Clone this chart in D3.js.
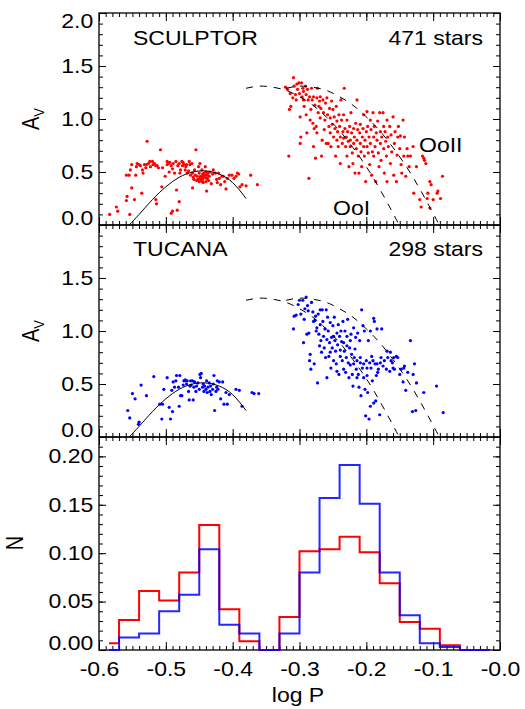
<!DOCTYPE html>
<html>
<head>
<meta charset="utf-8">
<script src="https://cdn.jsdelivr.net/npm/d3@7"></script>
<style>
body { margin: 0; background: #fff; }
svg text { font-family: "Liberation Sans", Arial, Helvetica, sans-serif; fill: #000; }
</style>
</head>
<body>
<svg id="chart" width="525" height="709"></svg>
<script>
/* ---------------------- Data ---------------------- */
// [log P, A_V]
var sculptorStars = [
  [-0.584,0.10],[-0.574,0.17],[-0.572,0.13],[-0.559,0.47],[-0.555,0.47],[-0.558,0.27],[-0.559,0.23],[-0.554,0.10],
  [-0.553,0.52],[-0.551,0.57],[-0.551,0.35],[-0.547,0.24],[-0.545,0.47],[-0.544,0.55],[-0.543,0.58],[-0.540,0.57],
  [-0.538,0.56],[-0.536,0.30],[-0.535,0.52],[-0.534,0.49],[-0.532,0.57],[-0.530,0.54],[-0.529,0.57],[-0.528,0.79],
  [-0.526,0.58],[-0.524,0.60],[-0.523,0.55],[-0.520,0.60],[-0.519,0.57],[-0.517,0.58],[-0.515,0.24],[-0.514,0.20],
  [-0.515,0.56],[-0.513,0.56],[-0.511,0.54],[-0.508,0.71],[-0.506,0.36],[-0.505,0.54],[-0.501,0.46],[-0.498,0.60],
  [-0.498,0.57],[-0.496,0.58],[-0.495,0.50],[-0.494,0.59],[-0.492,0.56],[-0.492,0.11],[-0.490,0.13],[-0.490,0.53],
  [-0.489,0.58],[-0.487,0.49],[-0.485,0.60],[-0.484,0.33],[-0.483,0.14],[-0.482,0.56],[-0.480,0.58],[-0.480,0.22],
  [-0.479,0.49],[-0.478,0.52],[-0.476,0.60],[-0.475,0.56],[-0.474,0.59],[-0.473,0.57],[-0.471,0.52],[-0.470,0.55],
  [-0.469,0.57],[-0.468,0.49],[-0.466,0.51],[-0.465,0.60],[-0.464,0.57],[-0.463,0.47],[-0.461,0.58],[-0.460,0.35],
  [-0.460,0.49],[-0.459,0.45],[-0.458,0.43],[-0.457,0.52],[-0.456,0.47],[-0.455,0.71],[-0.454,0.42],[-0.453,0.46],
  [-0.452,0.43],[-0.451,0.55],[-0.450,0.41],[-0.450,0.49],[-0.449,0.58],[-0.448,0.46],[-0.447,0.43],[-0.446,0.52],
  [-0.445,0.43],[-0.444,0.46],[-0.444,0.40],[-0.443,0.49],[-0.442,0.45],[-0.441,0.55],[-0.440,0.41],[-0.439,0.32],
  [-0.438,0.44],[-0.437,0.49],[-0.435,0.46],[-0.434,0.50],[-0.432,0.39],[-0.430,0.48],[-0.429,0.52],[-0.426,0.49],
  [-0.424,0.43],[-0.423,0.40],[-0.421,0.49],[-0.420,0.44],[-0.418,0.38],[-0.416,0.46],[-0.414,0.46],[-0.412,0.41],
  [-0.410,0.34],[-0.408,0.44],[-0.405,0.47],[-0.401,0.47],[-0.398,0.44],[-0.395,0.46],[-0.393,0.49],[-0.391,0.48],
  [-0.389,0.36],[-0.386,0.38],[-0.380,0.37],[-0.373,0.47],[-0.363,0.38],
  [-0.447,0.45],[-0.443,0.47],[-0.439,0.44],[-0.445,0.48],[-0.436,0.42],[-0.441,0.47],[-0.449,0.44],[-0.438,0.47],
  [-0.446,0.41],[-0.440,0.50],
  [-0.321,1.30],[-0.318,1.28],[-0.315,1.09],[-0.314,1.24],[-0.313,1.12],[-0.310,1.20],[-0.316,0.65],[-0.309,1.39],
  [-0.308,1.31],[-0.306,1.23],[-0.305,1.18],[-0.304,1.33],[-0.303,1.28],[-0.301,1.34],[-0.300,1.24],[-0.299,1.02],
  [-0.299,0.77],[-0.298,0.83],[-0.297,1.34],[-0.296,1.21],[-0.295,1.29],[-0.294,1.26],[-0.294,1.18],[-0.293,1.12],
  [-0.291,1.31],[-0.290,1.23],[-0.290,1.04],[-0.289,0.87],[-0.288,1.28],[-0.287,1.18],[-0.286,0.44],[-0.285,1.21],
  [-0.284,0.99],[-0.283,1.09],[-0.282,1.29],[-0.281,1.18],[-0.280,0.96],[-0.279,0.74],[-0.279,1.21],[-0.278,0.91],
  [-0.277,1.13],[-0.276,0.63],[-0.275,0.93],[-0.274,1.20],[-0.274,0.87],[-0.273,1.29],[-0.272,1.06],[-0.271,1.12],
  [-0.270,1.17],[-0.269,1.01],[-0.269,1.21],[-0.268,1.10],[-0.267,0.65],[-0.266,0.80],[-0.265,1.18],[-0.264,1.06],
  [-0.263,0.90],[-0.262,0.99],[-0.261,1.15],[-0.260,0.77],[-0.259,1.20],[-0.258,1.04],[-0.257,0.77],[-0.256,0.93],
  [-0.255,1.10],[-0.254,0.87],[-0.254,1.01],[-0.253,0.74],[-0.252,1.17],[-0.251,0.95],[-0.250,1.09],[-0.249,0.83],
  [-0.248,1.02],[-0.247,0.91],[-0.246,0.65],[-0.245,1.12],[-0.244,0.80],[-0.244,0.98],[-0.243,0.88],[-0.242,0.74],
  [-0.241,1.04],[-0.240,0.93],[-0.239,0.83],[-0.239,0.58],[-0.238,1.18],[-0.237,0.99],[-0.236,0.77],[-0.235,0.88],
  [-0.234,0.82],[-0.234,1.04],[-0.233,1.29],[-0.232,0.91],[-0.231,0.74],[-0.230,0.83],[-0.229,0.65],[-0.229,0.99],
  [-0.228,0.88],[-0.227,0.79],[-0.226,0.55],[-0.225,0.93],[-0.224,0.80],[-0.224,0.74],[-0.223,1.06],[-0.222,0.87],
  [-0.221,0.68],[-0.220,0.58],[-0.219,0.91],[-0.219,0.77],[-0.218,0.83],[-0.217,0.49],[-0.216,0.96],[-0.215,0.72],
  [-0.214,1.18],[-0.214,0.80],[-0.213,0.90],[-0.212,0.65],[-0.211,0.49],[-0.210,0.87],[-0.209,0.77],[-0.209,0.95],
  [-0.208,0.69],[-0.207,0.55],[-0.206,0.83],[-0.205,0.91],[-0.204,0.74],[-0.204,1.04],[-0.203,0.65],[-0.202,0.80],
  [-0.201,0.41],[-0.200,0.88],[-0.199,1.07],[-0.199,0.74],[-0.198,0.93],[-0.197,0.68],[-0.196,0.83],[-0.195,0.57],
  [-0.194,0.99],[-0.194,0.77],[-0.193,0.90],[-0.192,0.47],[-0.191,0.69],[-0.190,1.06],[-0.189,0.83],[-0.189,0.65],
  [-0.188,0.93],[-0.187,0.74],[-0.186,0.41],[-0.185,0.87],[-0.184,0.80],[-0.183,0.98],[-0.182,0.68],[-0.181,0.55],
  [-0.180,1.06],[-0.179,0.88],[-0.179,0.77],[-0.178,0.61],[-0.177,0.83],[-0.175,1.06],[-0.174,0.72],[-0.174,0.93],
  [-0.173,0.49],[-0.172,0.88],[-0.171,0.79],[-0.170,0.65],[-0.169,0.41],[-0.169,0.99],[-0.168,0.83],[-0.167,0.74],
  [-0.165,0.93],[-0.164,0.58],[-0.163,0.85],[-0.162,0.69],[-0.160,1.02],[-0.159,0.47],[-0.158,0.77],[-0.157,0.88],
  [-0.155,0.41],[-0.154,0.66],[-0.153,0.83],[-0.152,0.93],[-0.150,0.72],[-0.149,0.84],[-0.148,0.57],[-0.147,0.49],
  [-0.145,0.99],[-0.144,0.65],[-0.143,0.83],[-0.141,0.46],[-0.139,0.72],[-0.138,0.65],[-0.136,0.55],[-0.134,0.65],
  [-0.130,0.74],[-0.129,0.30],[-0.125,0.55],[-0.120,0.24],[-0.118,0.17],[-0.116,0.65],[-0.114,0.63],[-0.113,0.61],
  [-0.111,0.58],[-0.109,0.25],[-0.108,0.30],[-0.105,0.41],[-0.105,0.16],[-0.103,0.38],[-0.100,0.24],[-0.094,0.30],
  [-0.093,0.32],[-0.089,0.25],[-0.086,0.46]
];

var tucanaStars = [
  [-0.557,0.25],[-0.554,0.18],[-0.550,0.41],[-0.546,0.36],[-0.541,0.12],[-0.540,0.14],[-0.537,0.49],[-0.529,0.39],
  [-0.518,0.57],[-0.509,0.31],[-0.506,0.17],[-0.505,0.31],[-0.503,0.45],[-0.498,0.56],[-0.495,0.28],[-0.493,0.17],
  [-0.491,0.44],[-0.490,0.24],[-0.489,0.52],[-0.487,0.47],[-0.485,0.53],[-0.484,0.58],[-0.481,0.47],[-0.480,0.29],
  [-0.479,0.58],[-0.478,0.39],[-0.476,0.39],[-0.474,0.49],[-0.473,0.53],[-0.471,0.54],[-0.470,0.53],[-0.469,0.50],
  [-0.468,0.53],[-0.466,0.43],[-0.465,0.35],[-0.464,0.48],[-0.463,0.53],[-0.462,0.49],[-0.460,0.53],[-0.459,0.35],
  [-0.458,0.47],[-0.457,0.52],[-0.455,0.43],[-0.454,0.48],[-0.452,0.51],[-0.450,0.45],[-0.449,0.59],[-0.448,0.56],
  [-0.447,0.60],[-0.445,0.47],[-0.444,0.50],[-0.443,0.43],[-0.442,0.48],[-0.440,0.45],[-0.439,0.53],[-0.438,0.42],
  [-0.437,0.47],[-0.435,0.51],[-0.434,0.43],[-0.433,0.48],[-0.432,0.40],[-0.430,0.45],[-0.429,0.50],[-0.428,0.58],
  [-0.427,0.25],[-0.425,0.43],[-0.424,0.47],[-0.423,0.53],[-0.422,0.45],[-0.420,0.52],[-0.418,0.36],[-0.415,0.52],
  [-0.413,0.31],[-0.410,0.42],[-0.408,0.31],[-0.405,0.40],[-0.395,0.45],[-0.390,0.44],[-0.386,0.29],[-0.371,0.42],
  [-0.368,0.41],[-0.361,0.41],
  [-0.309,1.02],[-0.308,1.14],[-0.305,1.15],[-0.302,1.25],[-0.300,1.29],[-0.298,1.16],[-0.295,1.29],[-0.294,0.89],
  [-0.293,1.11],[-0.292,1.21],[-0.290,1.32],[-0.289,0.97],[-0.288,1.24],[-0.287,1.19],[-0.286,0.98],[-0.285,0.72],
  [-0.284,0.78],[-0.283,0.64],[-0.282,1.27],[-0.280,1.18],[-0.279,1.09],[-0.278,0.69],[-0.277,1.10],[-0.276,1.14],
  [-0.275,1.00],[-0.274,1.03],[-0.273,0.51],[-0.272,1.16],[-0.271,0.97],[-0.270,0.86],[-0.269,1.20],[-0.269,1.06],
  [-0.268,0.91],[-0.267,0.80],[-0.266,1.20],[-0.265,1.09],[-0.264,0.95],[-0.263,0.84],[-0.262,1.02],[-0.261,0.75],
  [-0.260,1.20],[-0.259,0.92],[-0.259,0.56],[-0.258,1.13],[-0.257,1.00],[-0.256,0.76],[-0.255,0.89],[-0.254,1.08],
  [-0.254,0.80],[-0.253,0.65],[-0.252,0.94],[-0.251,0.84],[-0.250,1.05],[-0.249,0.95],[-0.249,0.72],[-0.248,1.13],
  [-0.247,0.91],[-0.246,0.81],[-0.245,0.69],[-0.244,0.62],[-0.244,0.98],[-0.243,0.87],[-0.242,1.06],[-0.241,0.59],
  [-0.240,0.95],[-0.239,0.82],[-0.239,0.76],[-0.238,1.00],[-0.237,0.90],[-0.236,0.72],[-0.235,1.09],[-0.234,0.64],
  [-0.234,0.89],[-0.233,0.81],[-0.232,1.00],[-0.231,0.61],[-0.230,0.75],[-0.229,0.95],[-0.229,0.86],[-0.228,1.11],
  [-0.227,0.70],[-0.226,0.56],[-0.225,0.84],[-0.224,0.68],[-0.224,0.91],[-0.223,0.97],[-0.222,0.78],[-0.221,0.59],
  [-0.220,0.48],[-0.219,0.69],[-0.219,1.03],[-0.218,0.75],[-0.217,0.83],[-0.216,0.94],[-0.215,0.64],[-0.214,0.56],
  [-0.214,0.72],[-0.213,0.98],[-0.212,0.59],[-0.211,0.47],[-0.210,0.91],[-0.209,0.70],[-0.209,0.75],[-0.208,0.39],
  [-0.207,1.20],[-0.206,0.65],[-0.205,1.05],[-0.204,0.56],[-0.204,0.69],[-0.203,1.00],[-0.202,0.45],[-0.201,0.20],
  [-0.200,0.72],[-0.199,0.65],[-0.199,0.58],[-0.198,0.42],[-0.197,0.91],[-0.196,0.17],[-0.195,0.70],[-0.194,0.29],
  [-0.194,1.00],[-0.193,0.65],[-0.192,0.76],[-0.191,0.53],[-0.190,0.72],[-0.189,0.32],[-0.189,1.12],[-0.188,1.09],
  [-0.187,0.69],[-0.186,0.34],[-0.185,0.58],[-0.184,1.02],[-0.184,0.69],[-0.183,0.61],[-0.182,0.64],[-0.180,0.21],
  [-0.179,0.70],[-0.178,0.75],[-0.177,1.02],[-0.175,0.67],[-0.173,0.72],[-0.170,0.64],[-0.169,0.81],[-0.168,0.75],
  [-0.165,0.62],[-0.164,0.80],[-0.163,0.72],[-0.161,0.70],[-0.160,0.65],[-0.159,0.75],[-0.158,0.64],[-0.155,0.76],
  [-0.153,0.75],[-0.150,0.59],[-0.148,0.64],[-0.145,0.52],[-0.144,0.65],[-0.143,0.67],[-0.141,0.44],[-0.138,0.61],
  [-0.134,0.91],[-0.131,0.24],[-0.130,0.59],[-0.128,0.69],[-0.126,0.25],[-0.125,0.51],[-0.114,0.42],[-0.095,0.48],
  [-0.085,0.23]
];

// reference loci
var rrcLocus = [[-0.555,0.00],[-0.54,0.10],[-0.52,0.24],[-0.50,0.36],[-0.48,0.45],[-0.46,0.50],[-0.44,0.51],
                [-0.42,0.48],[-0.40,0.40],[-0.38,0.25]];
var ooILocus = [[-0.38,1.29],[-0.36,1.31],[-0.34,1.30],[-0.32,1.27],[-0.30,1.21],[-0.28,1.13],[-0.26,1.02],
                [-0.24,0.89],[-0.22,0.73],[-0.20,0.55],[-0.18,0.34],[-0.16,0.11],[-0.151,0.00]];
var ooIILocus = [[-0.32,1.29],[-0.30,1.31],[-0.28,1.30],[-0.26,1.27],[-0.24,1.21],[-0.22,1.13],[-0.20,1.02],
                 [-0.18,0.89],[-0.16,0.73],[-0.14,0.55],[-0.12,0.34],[-0.10,0.11],[-0.091,0.00]];

// normalised period histograms, bin centres every 0.03 in log P
var histCenters = [-0.585,-0.555,-0.525,-0.495,-0.465,-0.435,-0.405,-0.375,-0.345,-0.315,
                   -0.285,-0.255,-0.225,-0.195,-0.165,-0.135,-0.105,-0.075,-0.045,-0.015];
var sculptorHist = [0.007,0.031,0.061,0.051,0.080,0.129,0.042,0.009,0.000,0.034,
                    0.102,0.104,0.117,0.101,0.069,0.029,0.022,0.005,0.000,0.000];
var tucanaHist   = [0.000,0.013,0.017,0.040,0.057,0.104,0.026,0.017,0.000,0.017,
                    0.080,0.157,0.191,0.151,0.080,0.036,0.007,0.003,0.000,0.000];

var xTicks = [-0.6,-0.5,-0.4,-0.3,-0.2,-0.1,0.0];

/* ---------------------- Layout ---------------------- */
var svg = d3.select("#chart");
var STRETCH = 1.15;   // the original lettering is wide
var FONT = 20;
var colors = {scl: "#ff0000", tuc: "#0000ff"};

var x = d3.scaleLinear().domain([-0.6, 0]).range([99, 500]);

var panels = [
  {id: "scl", y: d3.scaleLinear().domain([0, 2]).range([225, 13]),
   major: [0, 0.5, 1, 1.5, 2], labels: [0, 0.5, 1, 1.5, 2], minorStep: 0.1, fmt: d3.format(".1f")},
  {id: "tuc", y: d3.scaleLinear().domain([0, 2]).range([437, 225]),
   major: [0, 0.5, 1, 1.5, 2], labels: [0, 0.5, 1, 1.5], minorStep: 0.1, fmt: d3.format(".1f")},
  {id: "hist", y: d3.scaleLinear().domain([0, 0.22]).range([650, 437]),
   major: [0, 0.05, 0.1, 0.15, 0.2], labels: [0, 0.05, 0.1, 0.15, 0.2], minorStep: 0.01, fmt: d3.format(".2f")}
];

function xFmt(d) { return "-" + Math.abs(d).toFixed(1); }

function drawAxes(p, showX) {
  var y = p.y, dom = y.domain();
  var top = y.range()[1], bottom = y.range()[0];
  var xl = x.range()[0], xr = x.range()[1];
  var yMinor = d3.range(dom[0], dom[1] + 1e-9, p.minorStep);
  var xMinor = d3.range(-0.6, 1e-9, 0.01);

  var g = svg.append("g").attr("class", "axes " + p.id);

  g.append("rect")
    .attr("x", xl).attr("y", top).attr("width", xr - xl).attr("height", bottom - top)
    .attr("fill", "none").attr("stroke", "#000").attr("stroke-width", 1.3);

  // left
  g.append("g").attr("transform", `translate(${xl},0)`)
    .call(d3.axisLeft(y).tickValues(yMinor).tickSize(-4).tickFormat(""));
  var left = g.append("g").attr("transform", `translate(${xl},0)`)
    .call(d3.axisLeft(y).tickValues(p.major).tickSize(-7).tickPadding(5)
      .tickFormat(d => p.labels.includes(d) ? p.fmt(d) : ""));
  left.selectAll("text")
    .attr("y", d => d === dom[0] ? -7 : (d === dom[1] ? 8 : 0))
    .attr("transform", `scale(${STRETCH},1)`);

  // right
  g.append("g").attr("transform", `translate(${xr},0)`)
    .call(d3.axisRight(y).tickValues(yMinor).tickSize(-4).tickFormat(""));
  g.append("g").attr("transform", `translate(${xr},0)`)
    .call(d3.axisRight(y).tickValues(p.major).tickSize(-7).tickFormat(""));

  // top
  g.append("g").attr("transform", `translate(0,${top})`)
    .call(d3.axisTop(x).tickValues(xMinor).tickSize(-4).tickFormat(""));
  g.append("g").attr("transform", `translate(0,${top})`)
    .call(d3.axisTop(x).tickValues(xTicks).tickSize(-8).tickFormat(""));

  // bottom
  g.append("g").attr("transform", `translate(0,${bottom})`)
    .call(d3.axisBottom(x).tickValues(xMinor).tickSize(-4).tickFormat(""));
  var bot = g.append("g").attr("transform", `translate(0,${bottom})`)
    .call(d3.axisBottom(x).tickValues(xTicks).tickSize(-8).tickPadding(12)
      .tickFormat(showX ? xFmt : ""));
  bot.selectAll("text").attr("transform", `scale(${STRETCH},1)`);

  g.selectAll(".domain").remove();
  g.selectAll(".tick line").attr("stroke-width", 1);
  g.selectAll(".tick text").attr("font-size", FONT);   // d3 puts 10px on the axis group
}

function label(px, py, txt, anchor) {
  return svg.append("text")
    .attr("transform", `translate(${px},${py}) scale(${STRETCH},1)`)
    .attr("text-anchor", anchor || "start")
    .attr("font-size", FONT)
    .text(txt);
}

function yTitle(px, py, main, sub) {
  var t = svg.append("text")
    .attr("transform", `translate(${px},${py}) rotate(-90) scale(1,${STRETCH})`)
    .attr("text-anchor", "middle")
    .attr("font-size", FONT);
  t.append("tspan").text(main);
  if (sub) t.append("tspan").attr("font-size", 13).attr("dy", 4).text(sub);
}

// clip paths
var defs = svg.append("defs");
panels.forEach(p => {
  defs.append("clipPath").attr("id", "clip-" + p.id)
    .append("rect")
    .attr("x", x.range()[0]).attr("y", p.y.range()[1])
    .attr("width", x.range()[1] - x.range()[0])
    .attr("height", p.y.range()[0] - p.y.range()[1]);
});

panels.forEach((p, i) => drawAxes(p, i === 2));

/* ---------------------- Scatter panels ---------------------- */
function scatterPanel(p, stars, color) {
  var g = svg.append("g").attr("clip-path", `url(#clip-${p.id})`);
  var line = d3.line().curve(d3.curveNatural).x(d => x(d[0])).y(d => p.y(d[1]));

  g.selectAll("circle")
    .data(stars)
    .enter()
    .append("circle")
    .attr("cx", d => x(d[0]))
    .attr("cy", d => p.y(d[1]))
    .attr("r", 1.6)
    .attr("fill", color);

  g.append("path").datum(rrcLocus).attr("d", line)
    .attr("fill", "none").attr("stroke", "#000").attr("stroke-width", 1);
  [ooILocus, ooIILocus].forEach(loc => {
    g.append("path").datum(loc).attr("d", line)
      .attr("fill", "none").attr("stroke", "#000").attr("stroke-width", 1)
      .attr("stroke-dasharray", "7,7");
  });
}

scatterPanel(panels[0], sculptorStars, colors.scl);
scatterPanel(panels[1], tucanaStars, colors.tuc);

/* ---------------------- Histogram ---------------------- */
var yH = panels[2].y;
var histLine = d3.line()
  .curve(d3.curveStep)
  .x((d, i) => x(histCenters[i]))
  .y(d => yH(d));

svg.append("path").datum(sculptorHist).attr("d", histLine)
  .attr("fill", "none").attr("stroke", colors.scl).attr("stroke-width", 2);
svg.append("path").datum(tucanaHist).attr("d", histLine)
  .attr("fill", "none").attr("stroke", colors.tuc).attr("stroke-width", 2)
  .attr("stroke-opacity", 0.85);

/* ---------------------- Labels ---------------------- */
label(133, 45, "SCULPTOR");
label(483, 45, "471 stars", "end");
label(419, 152, "OoII");
label(333, 215, "OoI");
label(133, 256, "TUCANA");
label(483, 256, "298 stars", "end");
label(298, 702, "log P", "middle");

yTitle(39, 119, "A", "V");
yTitle(39, 331, "A", "V");
yTitle(23, 543, "N");
</script>
</body>
</html>
